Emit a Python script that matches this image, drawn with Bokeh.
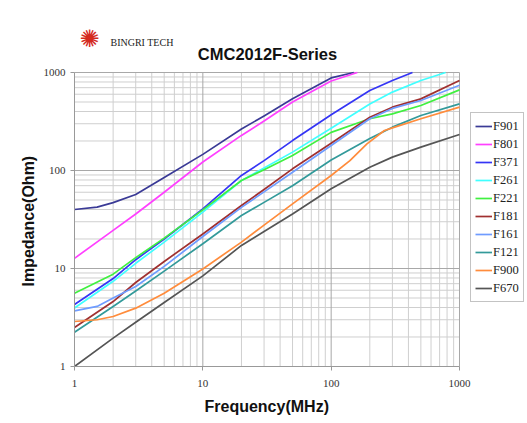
from bokeh.plotting import figure
from bokeh.models import Legend, LegendItem, FixedTicker, PrintfTickFormatter, Title
from bokeh.core.properties import value
from bokeh.embed import file_html
from bokeh.resources import INLINE

# ---- data ----
freq = [1, 2, 3, 5, 10, 20, 30, 50, 100, 200, 300, 500, 1000]

f901_f = [1, 1.5, 2, 3, 5, 10, 20, 30, 50, 100, 150]
f901 = [40, 42.3, 47, 57, 85, 146, 265, 360, 540, 880, 1000]

f801_f = [1, 2, 3, 5, 10, 20, 30, 50, 100, 160]
f801 = [12.7, 24.5, 36, 60, 122, 228, 320, 500, 820, 1000]

f371_f = [1, 2, 3, 5, 10, 20, 30, 50, 100, 200, 300, 430]
f371 = [4.3, 7.9, 12.3, 20, 40.5, 89, 126, 202, 370, 655, 830, 1000]

f261_f = [1, 2, 3, 5, 10, 20, 30, 50, 100, 200, 300, 500, 780]
f261 = [3.95, 7.4, 11.3, 18.6, 37.6, 79, 106, 154, 270, 478, 631, 828, 1000]

f221 = [5.6, 8.75, 12.9, 20.4, 39.7, 79, 102, 142, 245, 337, 378, 460, 665]
f181 = [2.5, 4.6, 7.2, 11.8, 22.5, 44, 64, 104, 190, 350, 443, 538, 828]

f161_f = [1, 1.5, 2, 3, 5, 10, 20, 30, 50, 100, 200, 300, 500, 1000]
f161 = [3.7, 4.1, 5.0, 6.55, 10.5, 21.2, 42, 60.5, 96, 180, 337, 430, 518, 740]

f121 = [2.24, 4.1, 5.9, 9.4, 17.9, 34.7, 47.3, 70, 128, 212, 277, 364, 478]

f900_f = [1, 1.5, 2, 3, 5, 10, 20, 30, 50, 100, 140, 190, 260, 300, 500, 1000]
f900 = [2.88, 3.0, 3.24, 3.94, 5.6, 9.9, 18.6, 27.7, 45.7, 89, 126, 187, 256, 272, 337, 443]

f670 = [1, 1.95, 2.83, 4.5, 8.4, 17.2, 23.8, 36, 65, 108, 137, 173, 233]

series_names = ["F901", "F801", "F371", "F261", "F221", "F181", "F161", "F121", "F900", "F670"]
series_x = [f901_f, f801_f, f371_f, f261_f, freq, freq, f161_f, freq, f900_f, freq]
series_y = [f901, f801, f371, f261, f221, f181, f161, f121, f900, f670]
colors = ["#3a3a96", "#ff40ff", "#3535f5", "#40ffff", "#40f040",
          "#a03030", "#6f9cff", "#339a9a", "#ff8c3c", "#555555"]

major_ticks = [1, 10, 100, 1000]
minor_ticks = [m * d for d in (1, 10, 100) for m in range(2, 10)]
axis_lo, axis_hi = 1, 1000

title_text = "CMC2012F-Series"
brand_text = "BINGRI TECH"
logo_text = "\u273a"
x_title = "Frequency(MHz)"
y_title = "Impedance(Ohm)"

# ---- layout numbers (pixels) ----
W, H = 524, 420
LEFT = 74                          # left edge of the 1..1000 square
SQ_BOTTOM = 366                    # bottom edge of the 1..1000 square
CHART_W, CHART_H = 385, 294        # pixel size of the 1..1000 square
BOTTOM = H - SQ_BOTTOM
FRAME_W = W - LEFT                 # frame reaches right edge (room for legend)
FRAME_H = H - BOTTOM               # frame reaches top edge (room for header)
x_end = 10 ** (3 * FRAME_W / CHART_W)
y_end = 10 ** (3 * FRAME_H / CHART_H)


def fx(px):   # canvas-pixel x -> data x
    return 10 ** ((px - LEFT) * 3 / CHART_W)


def fy(py):   # canvas-pixel y -> data y
    return 10 ** ((SQ_BOTTOM - py) * 3 / CHART_H)


p = figure(width=W, height=H, x_axis_type="log", y_axis_type="log",
           x_range=(axis_lo, x_end), y_range=(axis_lo, y_end),
           output_backend="svg", toolbar_location=None, title=None,
           min_border_left=LEFT, min_border_right=0,
           min_border_top=0, min_border_bottom=BOTTOM)
p.background_fill_color = "white"
p.border_fill_color = "white"
p.outline_line_color = None
p.xgrid.visible = False
p.ygrid.visible = False

# grid drawn only over the 1..1000 square
all_ticks = sorted(major_ticks + minor_ticks)
minor_only = [t for t in all_ticks if t not in major_ticks]
p.segment(x0=minor_only, x1=minor_only, y0=axis_lo, y1=axis_hi, line_color="#cfcfcf", line_width=1)
p.segment(x0=axis_lo, x1=axis_hi, y0=minor_only, y1=minor_only, line_color="#cfcfcf", line_width=1)
p.segment(x0=major_ticks, x1=major_ticks, y0=axis_lo, y1=axis_hi, line_color="#a8a8a8", line_width=1)
p.segment(x0=axis_lo, x1=axis_hi, y0=major_ticks, y1=major_ticks, line_color="#a8a8a8", line_width=1)

# header: logo, brand, title
p.text(x=[fx(89)], y=[fy(38)], text=[logo_text], text_font=value("DejaVu Sans"),
       text_font_size="24px", text_color="#d42a1e", text_align="center",
       text_baseline="middle")
p.text(x=[fx(110)], y=[fy(42)], text=[brand_text], text_font=value("Liberation Serif"),
       text_font_size="10px", text_color="#222222", text_align="left",
       text_baseline="middle")
p.text(x=[fx(267)], y=[fy(53)], text=[title_text], text_font=value("Liberation Sans"),
       text_font_style="bold", text_font_size="16.5px", text_color="#111111",
       text_align="center", text_baseline="middle")

for ax in (p.xaxis, p.yaxis):
    t = FixedTicker(ticks=major_ticks, minor_ticks=minor_ticks)
    ax.ticker = t
    ax.bounds = (axis_lo, axis_hi)
    ax.formatter = PrintfTickFormatter(format="%d")
    ax.axis_line_color = "#999999"
    ax.major_tick_line_color = "#999999"
    ax.major_tick_out = 4
    ax.major_tick_in = 0
    ax.minor_tick_out = 0
    ax.minor_tick_in = 0
    ax.major_label_text_font = "Liberation Serif"
    ax.major_label_text_font_size = "11px"
    ax.major_label_text_color = "#333333"

p.xaxis.major_label_standoff = 9
p.yaxis.major_label_standoff = 5

p.add_layout(Title(text=x_title, align="left", offset=130, standoff=12,
                   text_font="Liberation Sans", text_font_style="bold",
                   text_font_size="16px", text_color="#111111"), "below")
p.add_layout(Title(text=y_title, align="left", offset=80, standoff=7,
                   text_font="Liberation Sans", text_font_style="bold",
                   text_font_size="16px", text_color="#111111"), "left")

items = []
for name, xs, ys, c in zip(series_names, series_x, series_y, colors):
    r = p.line(xs, ys, line_color=c, line_width=1.7, line_join="round")
    items.append(LegendItem(label=name, renderers=[r]))

legend = Legend(items=items, location=(396, 64))
legend.label_text_font = "Liberation Serif"
legend.label_text_font_size = "12.5px"
legend.label_text_color = "#222222"
legend.glyph_width = 17
legend.glyph_height = 18
legend.label_height = 18
legend.label_standoff = 1
legend.spacing = 0
legend.padding = 4
legend.margin = 0
legend.border_line_color = "#888888"
legend.background_fill_color = "white"
p.add_layout(legend, "center")

open("out.html", "w").write(file_html(p, INLINE))
